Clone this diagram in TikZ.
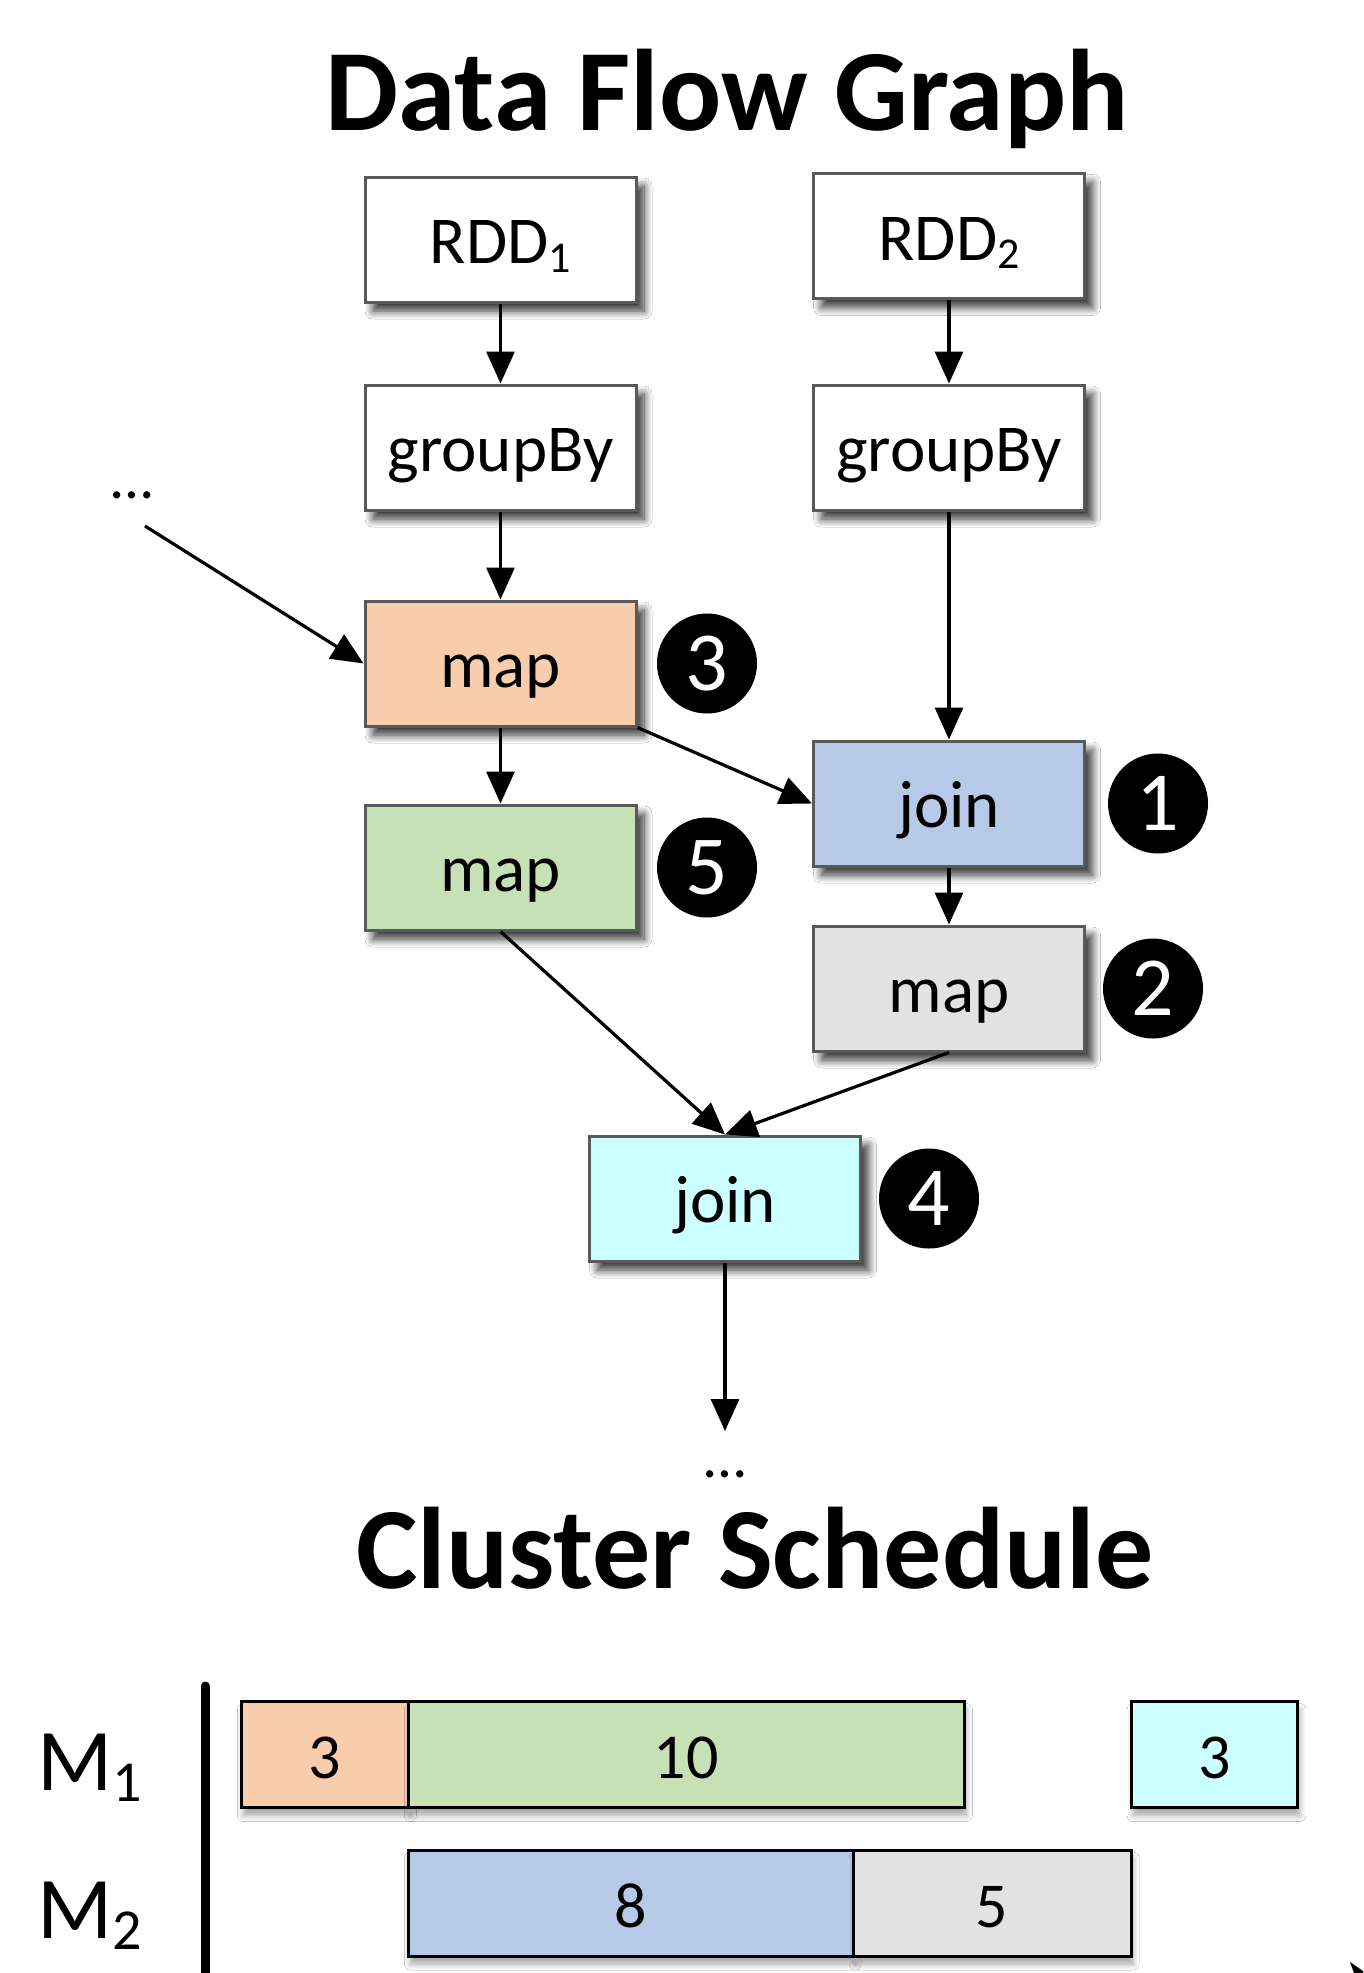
\documentclass[tikz,border=0pt]{standalone}
\usepackage{fontspec}
\setmainfont{Carlito}
\usetikzlibrary{arrows.meta,shadows.blur}

\definecolor{edgegray}{HTML}{595959}
\definecolor{mapone}{HTML}{F8CDAE}
\definecolor{maptwo}{HTML}{E2E2E2}
\definecolor{mapthree}{HTML}{C6E1B5}
\definecolor{joinone}{HTML}{B6C9E7}
\definecolor{jointwo}{HTML}{CCFFFF}

% lowered index in a given size
\newcommand\idx[2]{\raisebox{-0.13em}{\fontsize{#1}{#1}\selectfont #2}}

\tikzset{
  opbox/.style={rectangle, draw=edgegray, line width=3pt, fill=white,
    minimum width=271pt, minimum height=125pt, inner sep=0pt,
    text height=60pt, text depth=12pt,
    font=\fontsize{67}{72}\selectfont,
    blur shadow={shadow xshift=8pt, shadow yshift=-9pt,
      shadow blur radius=8pt, shadow blur steps=12, shadow opacity=80}},
  badge/.style={circle, fill=black, minimum size=100pt, inner sep=0pt,
    text=white, font=\fontsize{84}{84}\selectfont},
  flow/.style={-{Triangle[length=32pt,width=28pt]}, line width=3.2pt},
  task/.style={rectangle, draw=black, line width=3pt, anchor=west,
    minimum height=106pt, inner sep=0pt, text height=60pt, text depth=12pt,
    font=\fontsize{64}{70}\selectfont,
    blur shadow={shadow xshift=2pt, shadow yshift=-8pt,
      shadow blur radius=6pt, shadow blur steps=8, shadow opacity=35}},
  heading/.style={anchor=base, font=\fontsize{116}{124}\selectfont\bfseries},
  machine/.style={anchor=base west, font=\fontsize{88}{96}\selectfont},
  dots/.style={anchor=base, font=\fontsize{60}{66}\selectfont}
}

\begin{document}
\begin{tikzpicture}[x=1pt, y=-1pt]
\useasboundingbox[fill=white] (0,0) rectangle (1363,1973);

% headings
\node[heading] (dfg) at (727,130) {Data Flow Graph};
\node[heading] (cs) at (755,1588) {Cluster Schedule};

% operators of the data flow graph
\node[opbox] (rdda) at (500.5,239.5) {RDD\idx{44pt}{1}};
\node[opbox] (rddb) at (949,236) {RDD\idx{44pt}{2}};
\node[opbox] (gba) at (500.5,447.5) {groupBy};
\node[opbox] (gbb) at (949,447.5) {groupBy};
\node[opbox, fill=mapone] (mapa) at (500.5,663.5) {map};
\node[opbox, fill=mapthree] (mapc) at (500.5,867.5) {map};
\node[opbox, fill=joinone] (joina) at (949,803.5) {join};
\node[opbox, fill=maptwo] (mapb) at (949,988.5) {map};
\node[opbox, fill=jointwo] (joinb) at (725,1198.5) {join};

% execution order badges
\node[badge] (n3) at (707,663.5) {3};
\node[badge] (n5) at (707,867.5) {5};
\node[badge] (n1) at (1158,803.5) {1};
\node[badge] (n2) at (1153,988.5) {2};
\node[badge] (n4) at (929,1198.5) {4};

% elided inputs and outputs
\node[dots] (din) at (132,498) {…};
\coordinate (dinend) at (145,526);
\coordinate (doutend) at (725,1431);
\node[dots] (dout) at (725,1477) {…};

% edges
\draw[flow] (rdda) -- (gba);
\draw[flow] (rddb) -- (gbb);
\draw[flow] (gba) -- (mapa);
\draw[flow] (gbb) -- (joina);
\draw[flow] (dinend) -- (mapa.west);
\draw[flow] (mapa) -- (mapc);
\draw[flow] (mapa.south east) -- (joina.west);
\draw[flow] (joina) -- (mapb);
\draw[flow] (mapc.south) -- (joinb.north);
\draw[flow] (mapb.south) -- (joinb.north);
\draw[flow] (joinb) -- (doutend);

% cluster schedule: machine axis and labels
\draw[line width=9pt, line cap=round] (205,1686) -- (205,1990);
\node[machine] (ma) at (34,1790) {M\idx{58pt}{1}};
\node[machine] (mb) at (34,1938) {M\idx{58pt}{2}};

% task bars (time unit = 55.6)
\node[task, fill=mapone, minimum width=166.8pt] (ta) at (240,1754.5) {3};
\node[task, fill=mapthree, minimum width=556pt] (tc) at (406.8,1754.5) {10};
\node[task, fill=jointwo, minimum width=166.8pt] (te) at (1129.6,1754.5) {3};
\node[task, fill=joinone, minimum width=444.8pt] (tb) at (406.8,1903) {8};
\node[task, fill=maptwo, minimum width=278pt] (td) at (851.6,1903) {5};

% tip of the time axis arrow at the lower right
\fill (1350,1962) -- (1363,1971) -- (1363,1973) -- (1354,1973) -- cycle;
\end{tikzpicture}
\end{document}
